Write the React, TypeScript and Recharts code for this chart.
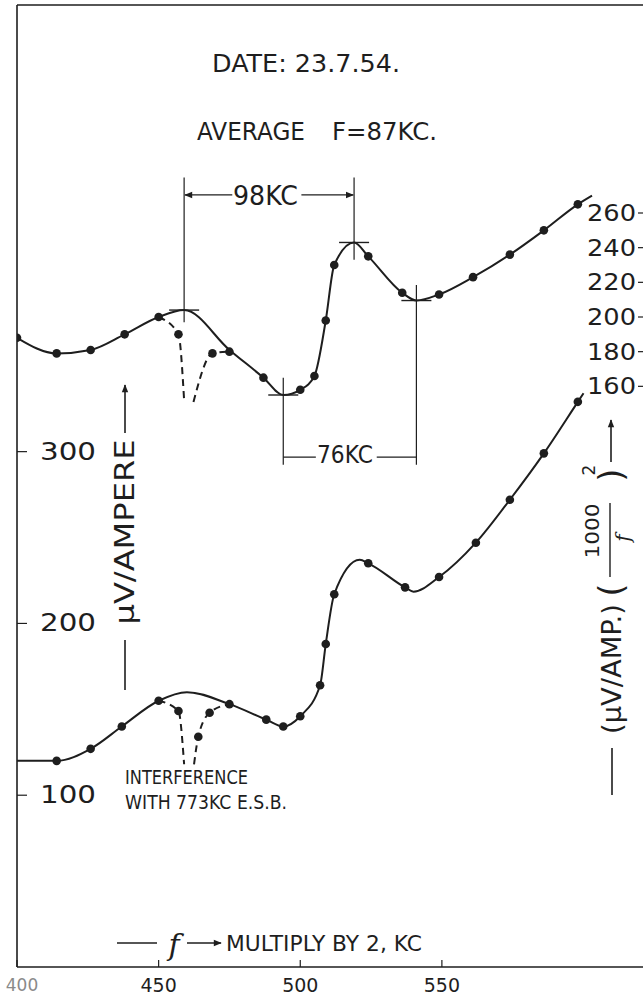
import { ComposedChart, Line, XAxis, YAxis, ReferenceLine } from "recharts";

const INK = "#1e1e1e";
const FONT = "'DejaVu Sans', sans-serif";

// f (multiply by 2 for KC) — upper curve, right axis: (uV/amp)(1000/f)^2
const upperCurveX = [400, 414, 426, 438, 450, 459, 475, 487, 494, 500, 505, 509, 512, 519, 524, 536, 541, 549, 561, 574, 586, 598, 603];
const upperCurveY = [188, 179, 181, 190, 200, 204, 181, 165, 155, 158, 166, 198, 230, 243, 235, 214, 209.5, 213, 223, 236, 250, 265, 270];
const upperDotX = [400, 414, 426, 438, 450, 487, 500, 505, 509, 512, 524, 536, 549, 561, 574, 586, 598];
const upperDotY = [188, 179, 181, 190, 200, 165, 158, 166, 198, 230, 235, 214, 213, 223, 236, 250, 265];
// interference dip, dashed
const upperDipLeftX = [450, 457, 459];
const upperDipLeftY = [200, 190, 152];
const upperDipRightX = [462.3, 469, 475];
const upperDipRightY = [151, 179, 180];
const upperDipDotX = [457, 469, 475];
const upperDipDotY = [190, 179, 180];

// lower curve, left axis: uV/ampere
const lowerCurveX = [400, 414, 426, 437, 450, 460, 475, 488, 494, 500, 507, 509, 512, 521, 524, 537, 540, 549, 562, 574, 586, 598, 600];
const lowerCurveY = [120, 120, 127, 140, 155, 160, 153, 144, 140, 146, 164, 188, 217, 237, 235, 221, 218.5, 227, 247, 272, 299, 329, 334];
const lowerDotX = [414, 426, 437, 450, 475, 488, 494, 500, 507, 509, 512, 524, 537, 549, 562, 574, 586, 598];
const lowerDotY = [120, 127, 140, 155, 153, 144, 140, 146, 164, 188, 217, 235, 221, 227, 247, 272, 299, 329];
const lowerDipLeftX = [450, 457, 459];
const lowerDipLeftY = [155, 149, 118];
const lowerDipRightX = [462.5, 464, 468, 475];
const lowerDipRightY = [118, 134, 148, 153];
const lowerDipDotX = [457, 464, 468];
const lowerDipDotY = [149, 134, 148];

// peak / trough markers on the upper curve (right axis)
const markX = [459, 519, 494, 541];
const markY = [204, 243, 155, 209.5];
const markLineTop = [280.5, 280.5, 165, 218.5];
const markLineBottom = [197, 233, 114.7, 114.7];

const xTicks = [400, 450, 500, 550];
const leftTicks = [100, 200, 300];
const rightTicks = [160, 180, 200, 220, 240, 260];

const pts = (xs: number[], ys: number[]) => xs.map((x, i) => ({ x, y: ys[i] }));

const LeftTick = (p: any) => (
  <text x={p.x} y={p.y} fill={INK} fontFamily={FONT} fontSize={24} dominantBaseline="central"
    textLength={56} lengthAdjust="spacingAndGlyphs">{p.payload.value}</text>
);
const RightTick = (p: any) => (
  <text x={p.x} y={p.y} fill={INK} fontFamily={FONT} fontSize={23} textAnchor="end" dominantBaseline="central"
    textLength={49} lengthAdjust="spacingAndGlyphs">{p.payload.value}</text>
);
const BottomTick = (p: any) => {
  const first = p.payload.value === 400;
  return (
    <text x={p.x + (first ? 5 : 0)} y={p.y} fill={first ? "#8a8a8a" : INK} fontFamily={FONT}
      fontSize={first ? 17 : 19} textAnchor="middle" dominantBaseline="central">{p.payload.value}</text>
  );
};

const VText = ({ x, y, size, len, children, italic }: any) => (
  <text transform={`translate(${x},${y}) rotate(-90)`} textAnchor="middle" dominantBaseline="central"
    fontSize={size} fill={INK} fontFamily={italic ? "'DejaVu Serif', serif" : FONT}
    fontStyle={italic ? "italic" : "normal"} textLength={len} lengthAdjust={len ? "spacingAndGlyphs" : undefined}>
    {children}
  </text>
);

const HText = ({ x, y, size, len, children }: any) => (
  <text x={x} y={y} fontSize={size} fill={INK} fontFamily={FONT} dominantBaseline="central"
    textLength={len} lengthAdjust="spacingAndGlyphs">{children}</text>
);

export default function App() {
  const curve = { type: "monotone" as const, dataKey: "y", stroke: INK, strokeWidth: 2, dot: false, isAnimationActive: false };
  const dashed = { ...curve, strokeDasharray: "7 5" };
  const dots = {
    dataKey: "y", stroke: "none", dot: { r: 4.3, fill: INK, stroke: "none" }, isAnimationActive: false,
  };
  return (
    <div style={{ position: "absolute", left: 0, top: 0, width: 643, height: 997, background: "#fff" }}>
      <ComposedChart width={643} height={997} margin={{ top: 5, right: 0, bottom: 0, left: 17 }}>
        <XAxis type="number" dataKey="x" domain={[400, 621]} ticks={xTicks} interval={0} allowDataOverflow
          height={30} tickSize={-7} tickMargin={25} axisLine={{ stroke: INK, strokeWidth: 1.6 }}
          tickLine={{ stroke: INK, strokeWidth: 1.2 }} tick={<BottomTick />} />
        <YAxis yAxisId="left" domain={[0, 560]} ticks={leftTicks} allowDataOverflow mirror width={1}
          tickSize={10} tickMargin={13} axisLine={{ stroke: INK, strokeWidth: 1.6 }}
          tickLine={{ stroke: INK, strokeWidth: 1.2 }} tick={<LeftTick />} />
        <YAxis yAxisId="right" orientation="right" domain={[-175, 380]} ticks={rightTicks} allowDataOverflow
          mirror width={1} tickSize={5} tickMargin={2} axisLine={false}
          tickLine={{ stroke: INK, strokeWidth: 1.2 }} tick={<RightTick />} />

        <ReferenceLine yAxisId="left" y={560} stroke={INK} strokeWidth={1.6} />

        {/* annotation brackets */}
        {markX.map((mx, i) => (
          <ReferenceLine key={`v${i}`} yAxisId="right" stroke={INK} strokeWidth={1.2}
            segment={[{ x: mx, y: markLineTop[i] }, { x: mx, y: markLineBottom[i] }]} />
        ))}
        {markX.map((mx, i) => (
          <ReferenceLine key={`h${i}`} yAxisId="right" stroke={INK} strokeWidth={1.4}
            segment={[{ x: mx - 5.3, y: markY[i] }, { x: mx + 5.3, y: markY[i] }]} />
        ))}
        <ReferenceLine yAxisId="right" stroke={INK} strokeWidth={1.2} markerStart="url(#arrowhead)"
          segment={[{ x: 459.3, y: 270.4 }, { x: 476, y: 270.4 }]} />
        <ReferenceLine yAxisId="right" stroke={INK} strokeWidth={1.2} markerEnd="url(#arrowhead)"
          segment={[{ x: 500.4, y: 270.4 }, { x: 518.7, y: 270.4 }]} />
        <ReferenceLine yAxisId="right" stroke={INK} strokeWidth={1.2}
          segment={[{ x: 494, y: 119.2 }, { x: 505.5, y: 119.2 }]} />
        <ReferenceLine yAxisId="right" stroke={INK} strokeWidth={1.2}
          segment={[{ x: 527, y: 119.2 }, { x: 541, y: 119.2 }]} />

        <Line yAxisId="right" data={pts(upperCurveX, upperCurveY)} {...curve} />
        <Line yAxisId="right" data={pts(upperDipLeftX, upperDipLeftY)} {...dashed} />
        <Line yAxisId="right" data={pts(upperDipRightX, upperDipRightY)} {...dashed} />
        <Line yAxisId="right" data={pts(upperDotX, upperDotY)} {...dots} />
        <Line yAxisId="right" data={pts(upperDipDotX, upperDipDotY)} {...dots} />

        <Line yAxisId="left" data={pts(lowerCurveX, lowerCurveY)} {...curve} />
        <Line yAxisId="left" data={pts(lowerDipLeftX, lowerDipLeftY)} {...dashed} />
        <Line yAxisId="left" data={pts(lowerDipRightX, lowerDipRightY)} {...dashed} />
        <Line yAxisId="left" data={pts(lowerDotX, lowerDotY)} {...dots} />
        <Line yAxisId="left" data={pts(lowerDipDotX, lowerDipDotY)} {...dots} />
      </ComposedChart>

      <svg width={643} height={997} style={{ position: "absolute", left: 0, top: 0, pointerEvents: "none" }}>
        <defs>
          <marker id="arrowhead" viewBox="0 0 10 10" refX="9" refY="5" markerWidth="10" markerHeight="8"
            markerUnits="userSpaceOnUse" orient="auto-start-reverse">
            <path d="M0,1 L10,5 L0,9 z" fill={INK} />
          </marker>
        </defs>

        <HText x={212} y={64} size={24} len={188}>DATE: 23.7.54.</HText>
        <HText x={197} y={132} size={24} len={108}>AVERAGE</HText>
        <HText x={332} y={132} size={24} len={105}>F=87KC.</HText>
        <HText x={233} y={195} size={27} len={65}>98KC</HText>
        <HText x={317} y={455} size={24} len={56}>76KC</HText>
        <HText x={125} y={777} size={19} len={123}>INTERFERENCE</HText>
        <HText x={125} y={802} size={19} len={162}>WITH 773KC E.S.B.</HText>

        {/* x axis title */}
        <line x1={117} y1={943} x2={157} y2={943} stroke={INK} strokeWidth={1.3} />
        <text x={174} y={944} fontSize={30} fill={INK} fontFamily="'DejaVu Serif', serif" fontStyle="italic"
          textAnchor="middle" dominantBaseline="central">f</text>
        <line x1={187} y1={943} x2={221} y2={943} stroke={INK} strokeWidth={1.3} markerEnd="url(#arrowhead)" />
        <HText x={226} y={944} size={21} len={196}>MULTIPLY  BY  2, KC</HText>

        {/* left axis title */}
        <line x1={125} y1={433} x2={125} y2={385} stroke={INK} strokeWidth={1.6} markerEnd="url(#arrowhead)" />
        <VText x={125} y={532} size={26} len={185}>μV/AMPERE</VText>
        <line x1={125} y1={640} x2={125} y2={690} stroke={INK} strokeWidth={1.6} />

        {/* right axis title */}
        <line x1={611} y1={462} x2={611} y2={420} stroke={INK} strokeWidth={1.6} markerEnd="url(#arrowhead)" />
        <VText x={589} y={470} size={17}>2</VText>
        <VText x={611} y={475} size={34}>)</VText>
        <VText x={592} y={531} size={20} len={55}>1000</VText>
        <line x1={610} y1={503} x2={610} y2={577} stroke={INK} strokeWidth={1.4} />
        <VText x={623} y={538} size={20} italic>f</VText>
        <VText x={611} y={590} size={34}>(</VText>
        <VText x={612} y={669} size={26} len={130}>(μV/AMP.)</VText>
        <line x1={612} y1={748} x2={612} y2={795} stroke={INK} strokeWidth={1.6} />
      </svg>
    </div>
  );
}
